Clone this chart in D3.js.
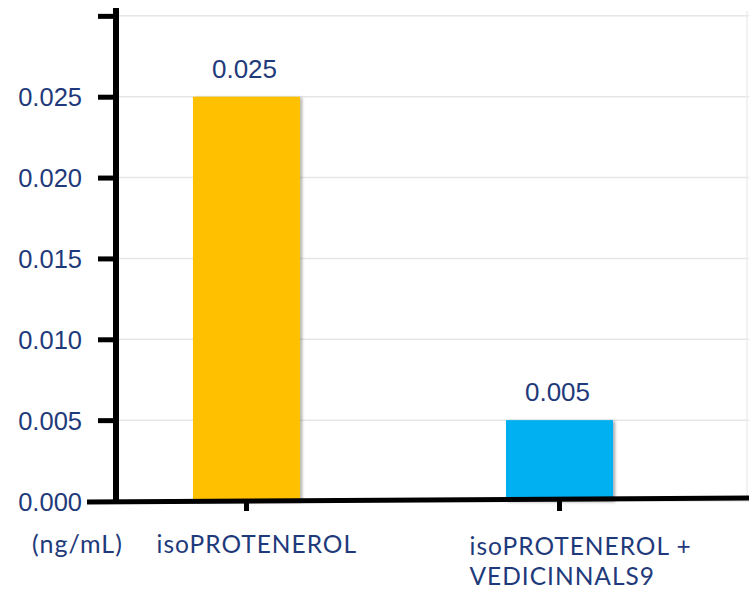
<!DOCTYPE html>
<html><head><meta charset="utf-8">
<script src="https://cdn.jsdelivr.net/npm/d3@7"></script>
<style>body{margin:0;background:#fff}svg{display:block}</style>
</head><body>
<svg id="c" width="749" height="590"></svg>
<script>
const categories = ["isoPROTENEROL", "isoPROTENEROL + VEDICINNALS9"];
const labelLines = [["isoPROTENEROL"], ["isoPROTENEROL +", "VEDICINNALS9"]];
const values = [0.025, 0.005];
const valueLabels = ["0.025", "0.005"];
const colors = ["#FFC000", "#00B0F0"];
const tickValues = [0, 0.005, 0.010, 0.015, 0.020, 0.025, 0.030];
const unitLabel = "(ng/mL)";

const svg = d3.select("#c");
const textColor = "#1f3a7a";
const y = d3.scaleLinear().domain([0, 0.0303]).range([501, 11]);
const x = d3.scaleBand().domain(categories).range([90, 716]).paddingInner(0.658).paddingOuter(0.329);

const defs = svg.append("defs");
const f = defs.append("filter").attr("id","sh").attr("x","-10%").attr("y","-10%").attr("width","130%").attr("height","130%");
f.append("feDropShadow").attr("dx",2).attr("dy",1).attr("stdDeviation",1.5).attr("flood-color","#000").attr("flood-opacity",0.35);

// gridlines
svg.append("g").selectAll("line").data(tickValues).join("line")
  .attr("x1", 116).attr("x2", 749).attr("y1", d => y(d)).attr("y2", d => y(d))
  .attr("stroke", "#e6e6e6").attr("stroke-width", 1.5);
svg.append("line").attr("x1",747).attr("x2",747).attr("y1",y(0.0303)).attr("y2",y(0)).attr("stroke","#eeeeee").attr("stroke-width",1.5);

// bars
svg.append("g").selectAll("rect").data(values).join("rect")
  .attr("x", (d,i) => x(categories[i])).attr("width", x.bandwidth())
  .attr("y", d => y(d)).attr("height", d => y(0) - y(d))
  .attr("fill", (d,i) => colors[i]).attr("filter","url(#sh)");

// value labels
svg.append("g").selectAll("text").data(values).join("text")
  .attr("x", (d,i) => x(categories[i]) + x.bandwidth()/2 - 2)
  .attr("y", d => y(d) - 19)
  .attr("text-anchor","middle").attr("font-family","Liberation Sans, Arial, sans-serif")
  .attr("font-size", 26).attr("fill", textColor).text((d,i) => valueLabels[i]);

// y axis
const yAxis = d3.axisLeft(y).tickValues(tickValues).tickSize(18).tickPadding(16)
  .tickFormat(d => d >= 0.0299 ? "" : d3.format(".3f")(d));
const ya = svg.append("g").attr("transform","translate(116,0)").call(yAxis);
ya.select(".domain").remove();
ya.selectAll(".tick line").attr("stroke","#000").attr("stroke-width",5);
ya.selectAll(".tick text").attr("font-family","Liberation Sans, Arial, sans-serif").attr("font-size",25.5).attr("fill",textColor).attr("dy","0.36em");
ya.select(".tick:first-of-type line").remove();
svg.append("line").attr("x1",116).attr("x2",116).attr("y1",y(0.0303)-3).attr("y2",y(0)).attr("stroke","#000").attr("stroke-width",6);

// x axis
const xa = svg.append("g").attr("transform",`translate(0,${y(0)})`)
  .call(d3.axisBottom(x).tickSize(10).tickFormat(""));
xa.select(".domain").remove();
xa.selectAll(".tick line").attr("stroke","#000").attr("stroke-width",5);
svg.append("line").attr("x1",87).attr("x2",749).attr("y1",y(0)+1).attr("y2",y(0)-3).attr("stroke","#000").attr("stroke-width",5);

// category labels
const cl = svg.append("g").selectAll("text").data(categories).join("text")
  .attr("x", d => x(d) + x.bandwidth()/2 - 90)
  .attr("y", (d,i) => 553 + i * 2)
  .attr("font-family","Lato, sans-serif").attr("font-size",24.5).attr("letter-spacing",1)
  .attr("fill",textColor);
cl.selectAll("tspan").data((d,i) => labelLines[i]).join("tspan")
  .attr("x", function(){ return this.parentNode.getAttribute("x"); })
  .attr("dy", (d,j) => j === 0 ? 0 : 29.5).text(d => d);

svg.append("text").attr("x",32).attr("y",553).attr("font-family","Lato, sans-serif")
  .attr("font-size",25).attr("letter-spacing",1).attr("fill",textColor).text(unitLabel);
</script>
</body></html>
